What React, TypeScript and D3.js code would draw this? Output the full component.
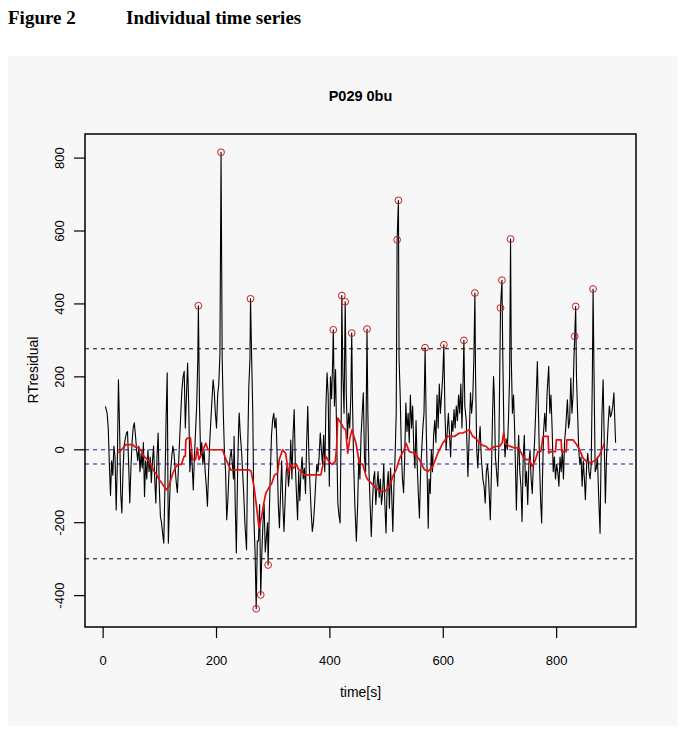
import React from "react";
import * as d3 from "d3";

// ---- data ----
const times: number[] = [
  4, 7, 9, 11, 13, 15, 17, 19, 21, 23, 25, 27, 29, 31, 33, 35, 37, 39, 41, 43, 45, 47, 49, 51, 53, 55, 57, 59, 61, 63,
  65, 67, 69, 71, 73, 75, 77, 79, 81, 83, 85, 87, 89, 91, 93, 95, 97, 99, 101, 103, 105, 107, 109, 111, 113, 115, 117,
  119, 121, 123, 125, 127, 129, 131, 133, 135, 137, 139, 141, 143, 145, 147, 149, 151, 153, 155, 157, 159, 161, 163,
  165, 167, 168, 170, 172, 174, 176, 178, 180, 182, 184, 186, 188, 190, 192, 194, 196, 198, 200, 202, 204, 206, 208,
  210, 212, 214, 216, 218, 220, 222, 224, 226, 228, 230, 231, 233, 235, 237, 239, 240, 242, 244, 246, 248, 250, 253,
  255, 257, 259, 260, 262, 264, 266, 268, 270, 272, 274, 276, 278, 280, 282, 284, 286, 288, 290, 291, 293, 295, 297,
  299, 301, 303, 305, 307, 309, 311, 313, 315, 317, 319, 321, 323, 325, 327, 329, 331, 333, 335, 337, 339, 341, 343,
  345, 347, 349, 351, 353, 355, 357, 359, 361, 363, 365, 367, 369, 371, 373, 375, 377, 379, 381, 383, 385, 387, 389,
  391, 393, 395, 397, 399, 401, 403, 405, 406, 408, 410, 412, 414, 416, 418, 420, 421, 423, 425, 427, 429, 431, 433,
  435, 437, 438.5, 440, 442, 444, 446.7, 449, 451, 453, 455, 457, 459, 461, 463, 465.5, 467, 469, 471, 473, 475, 477,
  479, 481, 483, 485, 487, 489, 491, 493, 495, 497, 499, 501, 503, 505, 507, 509, 511, 513, 515, 517, 518.6, 520.9,
  522, 524, 526, 528, 530, 532, 534, 536, 538, 540, 542, 544, 546, 548, 550, 552, 554, 556, 558, 560, 562, 564, 566,
  568, 570, 572, 573.5, 575, 577, 579, 581, 583, 585, 587, 589, 591, 593, 595, 597, 599, 601, 603, 605, 607, 609, 611,
  613, 615, 617, 619, 621, 623, 625, 627, 629, 631, 633, 634.5, 636.4, 638, 640.5, 643.5, 646, 648, 650, 652, 654,
  655.8, 657, 659, 661, 663, 665, 667, 670, 672, 674, 676, 678, 680, 683, 685, 687, 688.7, 690, 692, 694, 696, 698,
  701, 703.5, 705, 707, 709, 711, 713, 715, 717, 718.7, 720, 722, 724, 726, 729, 731, 733, 735, 737, 739, 741, 743,
  745, 747, 749, 751, 753, 755, 757, 759, 761, 763, 766, 768, 770, 772, 773.6, 775, 777, 779, 781, 783, 786, 788, 790,
  792, 794, 796, 798, 800, 802, 804, 806, 808, 810, 812, 814, 816, 819, 821, 823, 825, 827, 829, 830.5, 831.9, 833.6,
  835, 837, 839, 841, 843, 845, 847, 849, 850.7, 853, 855, 857, 859, 861, 863, 864.3, 866, 868, 870, 872, 874, 876.6,
  878, 880, 882, 884, 886, 888, 891, 893, 895, 897, 899, 901, 904,
];
const residuals: number[] = [
  119, 100, 60, -40, -125, -30, -70, 10, -20, -165, -40, 192, 60, -120, -173, -60, 10, 30, 46, 50, -40, -146, -50, 20,
  60, 74, 40, 0, -30, 10, -60, -10, -50, 20, -128, -30, -80, 0, -60, -20, -90, -30, 10, -80, -146, -20, 46, -100, -183,
  -200, -230, -256, -100, 80, 211, -256, -150, -60, -20, 10, -10, -50, -90, -118, -40, 30, 100, 165, 200, 215, 60, 150,
  238, 120, -60, 0, -40, -110, -20, 50, 120, 250, 395, 120, -20, 20, -40, 0, -60, -100, -155, -60, 20, 80, 137, 192, 160,
  100, 60, 150, 180, 260, 816, 250, 100, -9, -60, -192, -140, -60, -20, 0, -40, -80, 37, -150, -283, -80, 60, 101, 40,
  0, -60, -120, -200, -274, 0, 174, 250, 414, 250, 100, -192, -280, -436, -250, -250, -150, -398, -280, -200, -150, -280,
  -240, -200, -316, -180, -60, 40, 82, 100, 60, 87, -20, -150, -214, -120, -30, -150, -224, -140, -60, -40, -100, -60,
  27, -80, 40, 110, -40, -120, -192, -60, -140, -60, -20, -80, -50, -120, 20, 119, -20, -100, -170, -224, -200, -150,
  -90, -40, -60, -20, 46, 0, -40, 40, -60, 120, 211, 150, -100, 200, 140, 250, 329, 120, 220, 30, -146, -180, -201, 100,
  423, 200, 100, 406, 150, 30, 100, 60, 150, 320, 120, -40, -150, -251, -150, -20, -80, 40, 100, 156, -20, -60, 331,
  100, -60, -150, -238, -150, -80, -60, -150, -100, -60, -130, -80, -150, -118, -40, -150, -228, -100, -60, -160, -50,
  -120, -224, -100, -20, 100, 576, 684, 250, 150, 0, -80, -118, -20, 128, 50, 100, 20, 150, 60, 120, 0, -50, 80, -40,
  -120, -187, -60, 0, 60, 100, 280, 60, -100, -215, -80, -120, 0, -60, 40, 80, 20, 150, 60, 180, 100, 150, 200, 288,
  100, 0, 50, 100, 40, -20, 80, 50, 110, 60, 120, 80, 150, 100, 180, 60, 160, 300, 120, 82, -73, 50, 156, 100, 140, 250,
  430, 200, 0, -50, 20, 64, -20, -82, -100, -146, -60, -40, -80, -192, -60, 100, 201, 150, -20, -60, -100, 0, 389, 465,
  260, 50, -20, 30, 0, 80, 200, 578, 250, 100, 150, 50, -165, -40, 40, -60, -100, -197, -20, 40, -100, -60, -150, -40,
  0, -80, -120, -40, 20, 100, 242, 100, -50, -150, -201, -80, 50, 100, 50, 150, 229, 100, 150, 60, -60, -20, -80, -40,
  -60, -100, -20, -60, 0, -80, 20, 60, 137, 60, 80, 197, 100, 150, 250, 311, 393, 200, 100, 0, -40, -20, -100, -30,
  -80, -137, -40, -10, -60, -80, -40, 200, 441, 200, -60, -50, -20, -120, -229, -60, 100, 192, 20, -146, -20, 74, 120,
  90, 100, 120, 156, 19,
];
const medianTimes: number[] = [
  25, 30, 35, 40, 52, 56, 63, 68, 72, 80, 85, 90, 95, 98.6, 103, 107.5, 111.6, 116, 122, 127, 132, 138, 142.8, 145,
  146, 149, 154, 157.6, 163, 166, 169, 175, 181, 185, 190, 200, 210.6, 215, 225, 257.6, 261, 266, 270.6, 275, 280, 283,
  287, 292, 297.7, 302, 307.7, 310.6, 316.6, 322, 327, 331, 336, 341, 345, 349, 354.8, 384, 388, 393, 398, 404, 409.6,
  412, 413.8, 419.6, 424, 428, 431.4, 435, 439, 446, 452, 458, 463.8, 466.8, 472.6, 481.4, 490, 497, 505, 511, 516.8,
  524, 531, 534.5, 540, 549, 558, 567, 573, 581.6, 590.5, 599, 608, 620, 628.6, 634.6, 646, 652, 658, 664, 670, 675.8,
  681.6, 690.5, 700, 704, 706.4, 709, 717, 725.8, 733, 740.6, 746.5, 752, 757, 762, 767, 772, 776, 785, 786, 790.6, 798,
  799.5, 808, 809, 817, 818, 829, 835, 840.7, 846.6, 852.5, 861, 870, 876, 882, 884,
];
const medianValues: number[] = [
  -9, -5, 5, 14, 14, 8, 5, -5, -18, -30, -45, -59, -70, -82, -90, -101, -110, -100, -69, -50, -40, -40, -18, -18, 27,
  32, 33, -27, -27, 5, -27, -5, 18, 0, 0, 0, 0, -20, -55, -55, -59, -100, -155, -215, -180, -150, -119, -105, -91, -70,
  -64, -27, 0, -10, -64, -40, -50, -40, -55, -59, -69, -69, -40, -18, -32, -40, -32, 10, 87, 73, 60, 55, -9, 30, 55,
  18, -37, -40, -73, -82, -91, -105, -114, -114, -101, -73, -55, -20, 0, 18, -5, -9, -27, -55, -59, -46, -9, 18, 37, 37,
  46, 46, 55, 37, 30, 18, 12, 9, 0, 9, 10, 20, 46, 18, 10, 5, 5, -18, -27, -27, -46, -30, -5, -5, 37, 37, -9, -5, -5,
  27, 27, -5, -5, 27, 27, 15, 0, -23, -32, -35, -27, -14, 9, 18,
];
const upperLimit = 277;
const lowerLimit = -299;
const centerLines: number[] = [0, -39];
const xTicks: number[] = [0, 200, 400, 600, 800];
const yTicks: number[] = [-400, -200, 0, 200, 400, 600, 800];
const figureLabel = "Figure 2";
const figureCaption = "Individual time series";
const plotTitle = "P029 0bu";
const xLabel = "time[s]";
const yLabel = "RTresidual";

export default function App() {
  const W = 683;
  const H = 732;
  const left = 85, right = 636, top = 134, bottom = 627;

  const [tMin, tMax] = d3.extent(times) as [number, number];
  const [vMin, vMax] = d3.extent(residuals) as [number, number];
  const padT = (tMax - tMin) * 0.04;
  const padV = (vMax - vMin) * 0.04;
  const x = d3.scaleLinear().domain([tMin - padT, tMax + padT]).range([left, right]);
  const y = d3.scaleLinear().domain([vMin - padV, vMax + padV]).range([bottom, top]);

  const series = times.map((t, i) => [t, residuals[i]] as [number, number]);
  const median = medianTimes.map((t, i) => [t, medianValues[i]] as [number, number]);
  const line = d3.line<[number, number]>().x((d) => x(d[0])).y((d) => y(d[1]));
  const outliers = series.filter((d) => d[1] > upperLimit || d[1] < lowerLimit);

  const sans = "'Liberation Sans', Arial, Helvetica, sans-serif";
  const serif = "'Liberation Serif', 'Times New Roman', serif";

  return (
    <svg
      width={W}
      height={H}
      style={{ position: "absolute", left: 0, top: 0, background: "#ffffff" }}
    >
      <text x={8} y={24} fontFamily={serif} fontWeight="bold" fontSize={19}>
        {figureLabel}
      </text>
      <text x={126} y={24} fontFamily={serif} fontWeight="bold" fontSize={19}>
        {figureCaption}
      </text>
      <rect x={8} y={56} width={670} height={670} fill="#f7f7f7" />

      <text x={(left + right) / 2} y={101} textAnchor="middle" fontFamily={sans} fontWeight="bold" fontSize={14.5}>
        {plotTitle}
      </text>

      {/* reference lines */}
      {[upperLimit, lowerLimit].map((v) => (
        <line key={"l" + v} x1={left} x2={right} y1={y(v)} y2={y(v)} stroke="#000" strokeWidth={1} strokeDasharray="4,4" />
      ))}
      {centerLines.map((v) => (
        <line key={"c" + v} x1={left} x2={right} y1={y(v)} y2={y(v)} stroke="#1a1a9a" strokeWidth={1} strokeDasharray="4,4" />
      ))}

      <path d={line(series) ?? ""} fill="none" stroke="#000" strokeWidth={1.1} strokeLinejoin="round" />
      <path d={line(median) ?? ""} fill="none" stroke="#e01010" strokeWidth={1.7} strokeLinejoin="round" />
      {outliers.map((d, i) => (
        <circle key={i} cx={x(d[0])} cy={y(d[1])} r={3.4} fill="none" stroke="#cc1a1a" strokeWidth={1} />
      ))}

      {/* box */}
      <rect x={left} y={top} width={right - left} height={bottom - top} fill="none" stroke="#000" strokeWidth={1.5} />

      {/* x axis */}
      {xTicks.map((t) => (
        <g key={"x" + t}>
          <line x1={x(t)} x2={x(t)} y1={bottom} y2={bottom + 11} stroke="#000" strokeWidth={1.2} />
          <text x={x(t)} y={665} textAnchor="middle" fontFamily={sans} fontSize={13}>
            {t}
          </text>
        </g>
      ))}
      <text x={(left + right) / 2} y={697} textAnchor="middle" fontFamily={sans} fontSize={14}>
        {xLabel}
      </text>

      {/* y axis */}
      {yTicks.map((v) => (
        <g key={"y" + v}>
          <line x1={left} x2={left - 11} y1={y(v)} y2={y(v)} stroke="#000" strokeWidth={1.2} />
          <text
            transform={`translate(64,${y(v)}) rotate(-90)`}
            textAnchor="middle"
            fontFamily={sans}
            fontSize={13}
          >
            {v}
          </text>
        </g>
      ))}
      <text transform={`translate(38,370) rotate(-90)`} textAnchor="middle" fontFamily={sans} fontSize={14}>
        {yLabel}
      </text>
    </svg>
  );
}
